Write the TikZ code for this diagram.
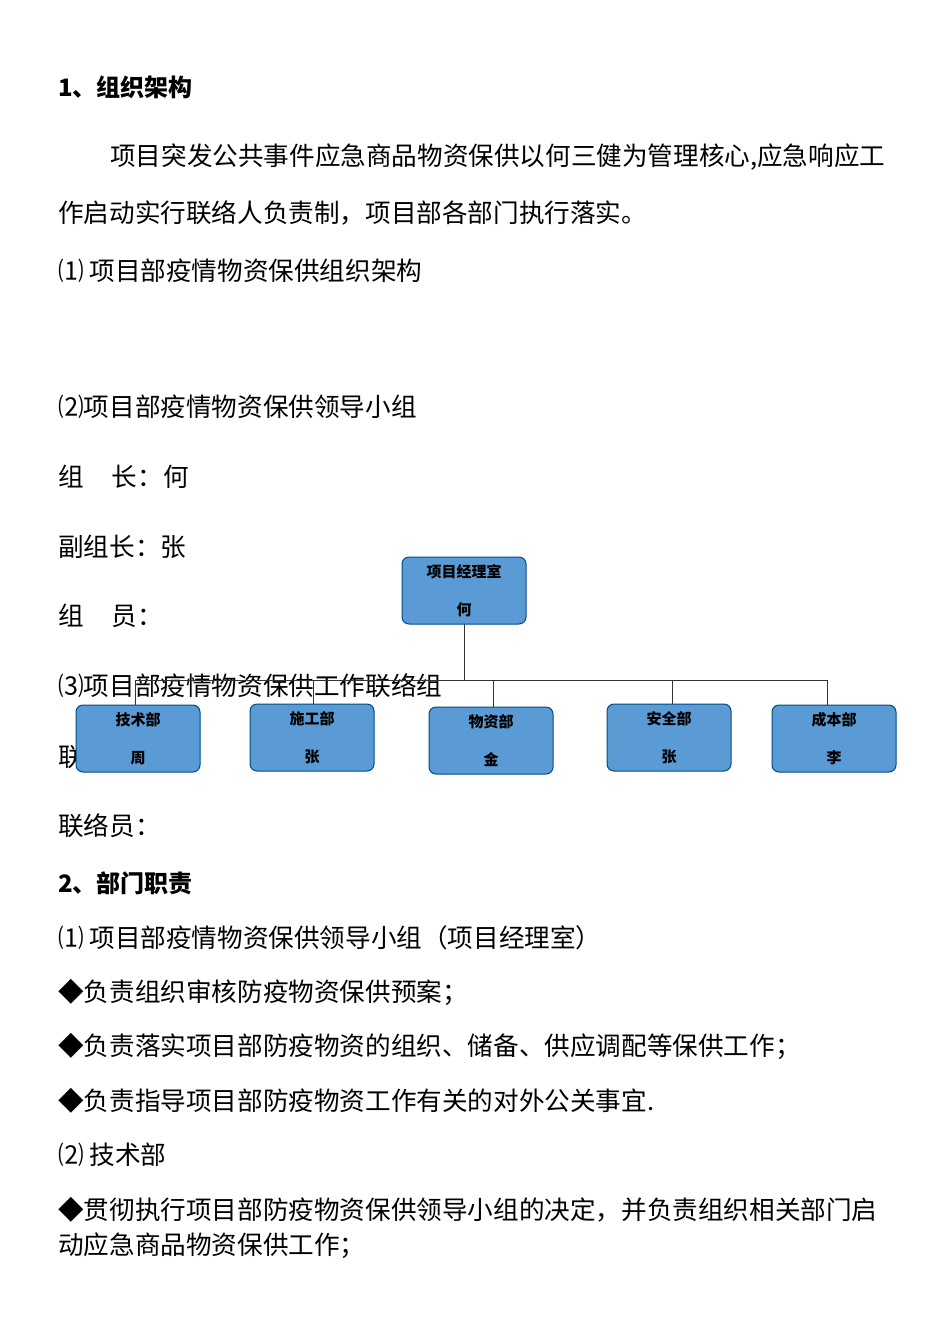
\documentclass[tikz,border=0pt]{standalone}
\usepackage{fontspec}
\setmainfont{Noto Sans CJK SC}
\begin{document}
\begin{tikzpicture}[x=1pt,y=-1pt,
  txt/.style={anchor=west,inner sep=0pt,font=\fontsize{25.6}{27}\selectfont},
  hd/.style={txt,font=\fontsize{24}{26}\selectfont\bfseries},
  box/.style={draw=blue!30!black!70!cyan,fill=boxfill,rounded corners=7pt,line width=1pt,minimum width=124pt,minimum height=67pt,align=center,font=\fontsize{15}{38}\selectfont\bfseries,inner sep=0pt},
  ln/.style={draw=black!80,line width=0.8pt}]
\definecolor{boxfill}{HTML}{5B9BD5}
\useasboundingbox (0,0) rectangle (950,1344);
\fill[white] (0,0) rectangle (950,1344);
\node[hd] (t1) at (58,87) {1、组织架构};
\node[txt] (t2) at (110,157) {项目突发公共事件应急商品物资保供以何三健为管理核心,应急响应工};
\node[txt] (t3) at (58,213) {作启动实行联络人负责制，项目部各部门执行落实。};
\node[txt] (t4) at (58,271) {⑴ 项目部疫情物资保供组织架构};
\node[txt] (t5) at (58,407) {⑵项目部疫情物资保供领导小组};
\node[txt] (t6) at (58,477) {组\hspace{1.1em}长：何};
\node[txt] (t7) at (58,547) {副组长：张};
\node[txt] (t8) at (58,616) {组\hspace{1.1em}员：};
\node[txt] (t9) at (58,686) {⑶项目部疫情物资保供工作联络组};
\node[txt] (t10) at (58,757) {联络人：};
\node[txt] (t11) at (58,826) {联络员：};
\node[hd] (t12) at (58,883) {2、部门职责};
\node[txt] (t13) at (58,938) {⑴ 项目部疫情物资保供领导小组（项目经理室）};
\node[txt] (t14) at (58,992) {◆负责组织审核防疫物资保供预案；};
\node[txt] (t15) at (58,1046) {◆负责落实项目部防疫物资的组织、储备、供应调配等保供工作；};
\node[txt] (t16) at (58,1101) {◆负责指导项目部防疫物资工作有关的对外公关事宜.};
\node[txt] (t17) at (58,1155) {⑵ 技术部};
\node[txt] (t18) at (58,1210) {◆贯彻执行项目部防疫物资保供领导小组的决定，并负责组织相关部门启};
\node[txt] (t19) at (58,1246) {动应急商品物资保供工作；};
% org chart
\coordinate (bl) at (135,680);
\coordinate (br) at (827,680);
\coordinate (pj) at (464,680);
\coordinate (j2) at (313,680);
\coordinate (j3) at (493,680);
\coordinate (j4) at (672,680);
\draw[ln] (bl) -- (br);
\draw[ln] (pj) -- (464,623);
\draw[ln] (bl) -- (135,706);
\draw[ln] (j2) -- (313,705);
\draw[ln] (j3) -- (493,708);
\draw[ln] (j4) -- (672,705);
\draw[ln] (br) -- (827,706);
\node[box] (pm) at (464,590.5) {项目经理室\\何};
\node[box] (b1) at (138,738.5) {技术部\\周};
\node[box] (b2) at (312,737.5) {施工部\\张};
\node[box] (b3) at (491,740.5) {物资部\\金};
\node[box] (b4) at (669,737.5) {安全部\\张};
\node[box] (b5) at (834,738.5) {成本部\\李};
\end{tikzpicture}
\end{document}
